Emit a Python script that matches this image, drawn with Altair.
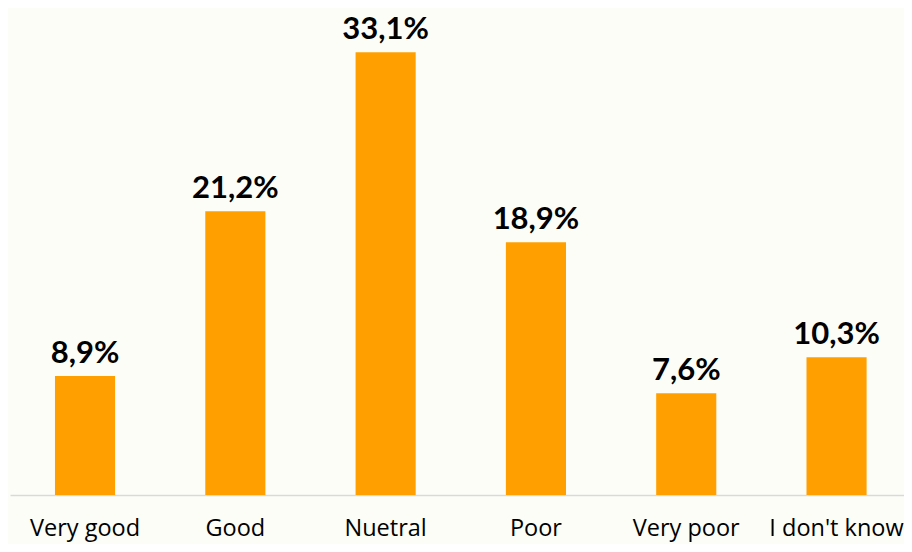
import altair as alt
import pandas as pd

categories = ["Very good", "Good", "Nuetral", "Poor", "Very poor", "I don't know"]
values = [8.9, 21.2, 33.1, 18.9, 7.6, 10.3]

df = pd.DataFrame({"cat": categories, "val": values})

x = alt.X("cat:N", sort=categories,
          scale=alt.Scale(paddingInner=0.6, paddingOuter=0.274, align=0.546),
          axis=alt.Axis(title=None, labelAngle=0, labelFont="Open Sans", labelFontSize=23.5,
                        labelColor="#000000", labelBaseline="alphabetic", labelPadding=40,
                        ticks=False, tickSize=0, domainColor="#D9D9D9", domainWidth=1.5,
                        grid=False))
y = alt.Y("val:Q", scale=alt.Scale(domain=[0, 36.4], nice=False, zero=True),
          axis=None)

bars = alt.Chart(df).mark_bar(color="#FFA000").encode(x=x, y=y)

labels = alt.Chart(df).transform_calculate(
    lab="replace(format(datum.val, '.1f'), '.', ',') + '%'"
).mark_text(font="Lato", fontSize=31, fontWeight="bold", color="#000000",
            baseline="alphabetic", dy=-13).encode(x=x, y=y, text="lab:N")

chart = (bars + labels).properties(
    width=894, height=487,
    background="#FDFDF8",
    padding={"left": 2, "top": 0, "right": 0, "bottom": 49},
    autosize=alt.AutoSizeParams(type="none"),
).configure_view(stroke=None)

chart.save("out.html", embed_options={"renderer": "svg", "actions": False})
